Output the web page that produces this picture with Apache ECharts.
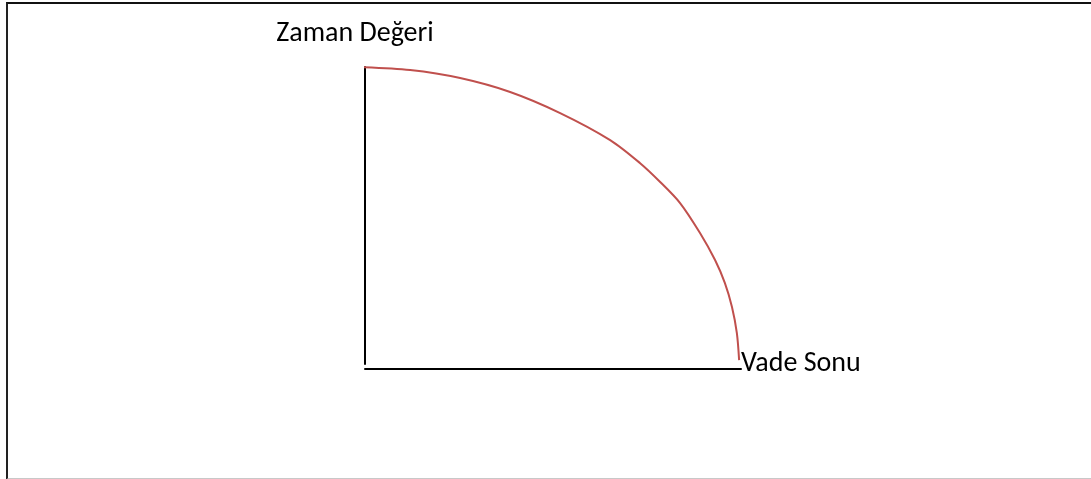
<!DOCTYPE html>
<html>
<head>
<meta charset="utf-8">
<script src="https://cdn.jsdelivr.net/npm/echarts@6/dist/echarts.min.js"></script>
<style>
  html, body { margin: 0; padding: 0; background: #fff; }
  #frame { position: absolute; left: 6px; top: 2px; width: 1091px; height: 474px;
           border-left: 2px solid #222; border-top: 2px solid #111; border-bottom: 2px solid #c8c8c8; }
  #chart { position: absolute; left: 0; top: 0; width: 1091px; height: 479px; }
</style>
</head>
<body>
<div id="frame"></div>
<div id="chart"></div>
<script>
// curve: time (x) vs value (y)
const curveX = [-1.3, 12, 25.3, 38.6, 51.9, 65.2, 73.1, 78.5, 83.8, 89.1, 93.1, 95.7, 97.6, 98.9, 99.5];
const curveY = [100, 99, 96.3, 91.6, 84.5, 75.4, 67.7, 61.3, 54.2, 44.1, 35.0, 27.3, 19.2, 10.4, 1.3];
const yLabel = 'Zaman Değeri';
const xLabel = 'Vade Sonu';

let chart = echarts.init(document.getElementById('chart'));
chart.setOption({
  animation: false,
  grid: { left: 365, top: 67, width: 376, height: 297 },
  xAxis: {
    type: 'value', min: 0, max: 100,
    offset: 5,
    name: xLabel,
    nameLocation: 'end',
    nameGap: 0,
    nameTextStyle: { fontFamily: 'Carlito, Open Sans', fontSize: 28, color: '#000', align: 'left', verticalAlign: 'bottom', padding: [0, 0, -9, 0] },
    axisLine: { show: true, onZero: false, lineStyle: { color: '#000', width: 2 } },
    axisTick: { show: false }, axisLabel: { show: false }, splitLine: { show: false }
  },
  yAxis: {
    type: 'value', min: 0, max: 100,
    name: yLabel,
    nameLocation: 'end',
    nameGap: 19,
    nameTextStyle: { fontFamily: 'Carlito, Open Sans', fontSize: 28, color: '#000', align: 'center', padding: [0, 20, 0, 0] },
    axisLine: { show: true, lineStyle: { color: '#000', width: 2 } },
    axisTick: { show: false }, axisLabel: { show: false }, splitLine: { show: false }
  },
  series: [{
    type: 'line',
    data: curveX.map((x, i) => [x, curveY[i]]),
    smooth: 0.3,
    clip: false,
    showSymbol: false,
    lineStyle: { color: '#c0504d', width: 2 }
  }]
});
</script>
</body>
</html>
